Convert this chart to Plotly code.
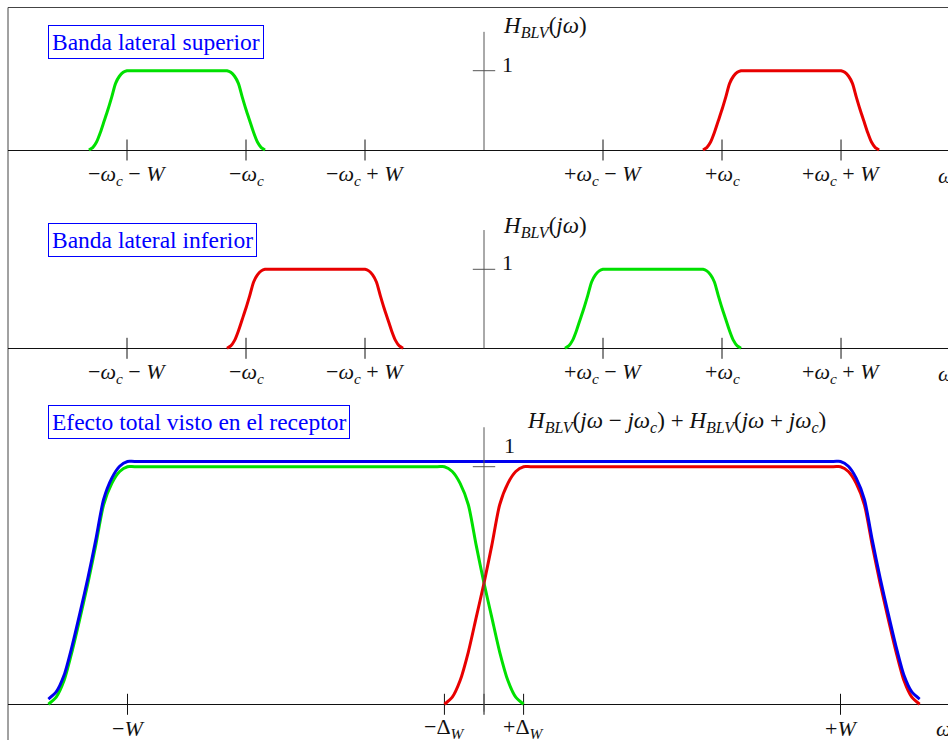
import plotly.graph_objects as go

FONT = "Liberation Serif"
GREEN = "#00e000"
RED = "#e80000"
BLUE = "#0000ee"
AXIS_GRAY = "#555555"

# ---- filter transition values (last / first point: flat top) ----
rise_v = [0, 0.03, 0.10, 0.22, 0.365, 0.51, 0.67, 0.84, 0.93, 0.98, 1.0, 1.0]
fall_v = [1.0, 1.0, 0.98, 0.93, 0.84, 0.67, 0.51, 0.365, 0.22, 0.10, 0.03, 0]
blue_rise_v = [0.022, 0.052, 0.122, 0.242, 0.387, 0.532, 0.692, 0.862, 0.952, 1.002, 1.022, 1.022]
blue_fall_v = [1.022, 1.022, 1.002, 0.952, 0.862, 0.692, 0.532, 0.387, 0.242, 0.122, 0.052, 0.022]

# ---- panel 1: Banda lateral superior (x in units of W, wc = 2W) ----
p1_green_rise_x = [-3.32, -3.288, -3.256, -3.224, -3.192, -3.16, -3.128, -3.096, -3.064, -3.032, -3.0, -2.97]
p1_green_fall_x = [-2.19, -2.16, -2.128, -2.096, -2.064, -2.032, -2.0, -1.968, -1.936, -1.904, -1.872, -1.84]
p1_red_rise_x = [1.84, 1.872, 1.904, 1.936, 1.968, 2.0, 2.032, 2.064, 2.096, 2.128, 2.16, 2.19]
p1_red_fall_x = [2.97, 3.0, 3.032, 3.064, 3.096, 3.128, 3.16, 3.192, 3.224, 3.256, 3.288, 3.32]

# ---- panel 2: Banda lateral inferior ----
p2_red_rise_x = [-2.16, -2.128, -2.096, -2.064, -2.032, -2.0, -1.968, -1.936, -1.904, -1.872, -1.84, -1.81]
p2_red_fall_x = [-1.03, -1.0, -0.968, -0.936, -0.904, -0.872, -0.84, -0.808, -0.776, -0.744, -0.712, -0.68]
p2_green_rise_x = [0.68, 0.712, 0.744, 0.776, 0.808, 0.84, 0.872, 0.904, 0.936, 0.968, 1.0, 1.03]
p2_green_fall_x = [1.81, 1.84, 1.872, 1.904, 1.936, 1.968, 2.0, 2.032, 2.064, 2.096, 2.128, 2.16]

# ---- panel 3: Efecto total visto en el receptor (x in units of W) ----
p3_green_rise_x = [-1.222, -1.2, -1.178, -1.156, -1.133, -1.111, -1.089, -1.067, -1.044, -1.022, -1.0, -0.98]
p3_green_fall_x = [-0.131, -0.111, -0.089, -0.067, -0.044, -0.022, 0.0, 0.022, 0.044, 0.067, 0.089, 0.111]
p3_red_rise_x = [-0.111, -0.089, -0.067, -0.044, -0.022, 0.0, 0.022, 0.044, 0.067, 0.089, 0.111, 0.131]
p3_red_fall_x = [0.98, 1.0, 1.022, 1.044, 1.067, 1.089, 1.111, 1.133, 1.156, 1.178, 1.2, 1.222]

# ---- tick labels ----
sb_tick_vals = [-3, -2, -1, 1, 2, 3]
sb_tick_labels = [
    "−<i>ω</i><sub><i>c</i></sub> − <i>W</i>",
    "−<i>ω</i><sub><i>c</i></sub>",
    "−<i>ω</i><sub><i>c</i></sub> + <i>W</i>",
    "+<i>ω</i><sub><i>c</i></sub> − <i>W</i>",
    "+<i>ω</i><sub><i>c</i></sub>",
    "+<i>ω</i><sub><i>c</i></sub> + <i>W</i>",
]
tot_tick_vals = [-1, -0.111, 0, 0.111, 1]
tot_tick_labels = ["−<i>W</i>", "−Δ<sub><i>W</i></sub>", "", "+Δ<sub><i>W</i></sub>", "+<i>W</i>"]

H_label = "<i>H</i><sub><i>BLV</i></sub>(<i>jω</i>)"
H_total_label = ("<i>H</i><sub><i>BLV</i></sub>(<i>jω</i> − <i>jω</i><sub><i>c</i></sub>)&nbsp;+&nbsp;"
                 "<i>H</i><sub><i>BLV</i></sub>(<i>jω</i> + <i>jω</i><sub><i>c</i></sub>)")
box_titles = ["Banda lateral superior", "Banda lateral inferior", "Efecto total visto en el receptor"]

fig = go.Figure()

def curve(x, y, color, xa, ya):
    fig.add_trace(go.Scatter(x=x, y=y, mode="lines", xaxis=xa, yaxis=ya,
                             line=dict(color=color, width=3, shape="spline", smoothing=0.7),
                             hoverinfo="skip", showlegend=False))

def ticks(xs, xa, ya):
    fig.add_trace(go.Scatter(x=xs, y=[0] * len(xs), mode="markers", xaxis=xa, yaxis=ya,
                             marker=dict(symbol="line-ns", size=15,
                                         line=dict(color="#111111", width=1)),
                             hoverinfo="skip", showlegend=False))

def level_tick(xa, ya):
    fig.add_trace(go.Scatter(x=[0], y=[1], mode="markers", xaxis=xa, yaxis=ya,
                             marker=dict(symbol="line-ew", size=16,
                                         line=dict(color=AXIS_GRAY, width=1)),
                             hoverinfo="skip", showlegend=False))

# panel 1
ticks(sb_tick_vals, "x", "y")
level_tick("x", "y")
curve(p1_green_rise_x + p1_green_fall_x, rise_v + fall_v, GREEN, "x", "y")
curve(p1_red_rise_x + p1_red_fall_x, rise_v + fall_v, RED, "x", "y")
# panel 2
ticks(sb_tick_vals, "x2", "y2")
level_tick("x2", "y2")
curve(p2_red_rise_x + p2_red_fall_x, rise_v + fall_v, RED, "x2", "y2")
curve(p2_green_rise_x + p2_green_fall_x, rise_v + fall_v, GREEN, "x2", "y2")
# panel 3
ticks(tot_tick_vals, "x3", "y3")
level_tick("x3", "y3")
curve(p3_green_rise_x + p3_green_fall_x, rise_v + fall_v, GREEN, "x3", "y3")
curve(p3_red_rise_x + p3_red_fall_x, rise_v + fall_v, RED, "x3", "y3")
curve(p3_green_rise_x + p3_red_fall_x, blue_rise_v + blue_fall_v, BLUE, "x3", "y3")

W, H = 948, 740
xdom = [8 / W, 1]
ax_common = dict(showgrid=False, showticklabels=False, zeroline=False, showline=False,
                 ticks="", fixedrange=True)
yax_common = dict(showgrid=False, showticklabels=False, zeroline=True, zerolinecolor="#111111",
                  zerolinewidth=1, showline=False, ticks="", fixedrange=True)

fig.update_layout(
    width=W, height=H, margin=dict(l=0, r=0, t=0, b=0),
    paper_bgcolor="white", plot_bgcolor="rgba(0,0,0,0)",
    xaxis=dict(domain=xdom, range=[-4.0, 3.899], anchor="y", **ax_common),
    yaxis=dict(domain=[1 - 200 / H, 1], range=[-0.6305, 1.8916], anchor="x", **yax_common),
    xaxis2=dict(domain=xdom, range=[-4.0, 3.899], anchor="y2", **ax_common),
    yaxis2=dict(domain=[1 - 395 / H, 1 - 200 / H], range=[-0.5911, 1.8772], anchor="x2", **yax_common),
    xaxis3=dict(domain=xdom, range=[-1.3352, 1.3015], anchor="y3", **ax_common),
    yaxis3=dict(domain=[0, 1 - 395 / H], range=[-0.1503, 1.3018], anchor="x3", **yax_common),
    font=dict(family=FONT, size=22, color="#111111"),
)

shapes = [
    # outer frame
    dict(type="rect", xref="paper", yref="paper", x0=8 / W, x1=1.2, y0=-0.2, y1=1 - 7.5 / H,
         line=dict(color="#444444", width=1), fillcolor="rgba(0,0,0,0)", layer="below"),
    # vertical axes
    dict(type="line", xref="x", yref="y", x0=0, x1=0, y0=0, y1=1.49,
         line=dict(color=AXIS_GRAY, width=1)),
    dict(type="line", xref="x2", yref="y2", x0=0, x1=0, y0=0, y1=1.497,
         line=dict(color=AXIS_GRAY, width=1)),
    dict(type="line", xref="x3", yref="y3", x0=0, x1=0, y0=-0.031, y1=1.166,
         line=dict(color=AXIS_GRAY, width=1)),
]
fig.update_layout(shapes=shapes)

ann = []
def label(text, xa, ya, x, y, xanchor="center", yanchor="middle", yshift=0, size=22, color="#111111"):
    ann.append(dict(text=text, xref=xa, yref=ya, x=x, y=y, xanchor=xanchor, yanchor=yanchor,
                    yshift=yshift, showarrow=False, font=dict(family=FONT, size=size, color=color)))

for xa, ya in (("x", "y"), ("x2", "y2")):
    for v, t in zip(sb_tick_vals, sb_tick_labels):
        label(t, xa, ya, v, 0, yshift=-25)
    label("<i>ω</i>", xa, ya, 3.796, 0, xanchor="left", yshift=-25)
for v, t in zip(tot_tick_vals, tot_tick_labels):
    if t:
        label(t, "x3", "y3", v, 0, yshift=-24)
label("<i>ω</i>", "x3", "y3", 1.262, 0, xanchor="left", yshift=-24)

label(H_label, "x", "y", 0.14, 1.555, xanchor="left", size=23)
label("1", "x", "y", 0.134, 1.072, xanchor="left")
label(H_label, "x2", "y2", 0.14, 1.539, xanchor="left", size=23)
label("1", "x2", "y2", 0.134, 1.080, xanchor="left")
label(H_total_label, "x3", "y3", 0.115, 1.189, xanchor="left", size=23)
label("1", "x3", "y3", 0.0505, 1.091, xanchor="left")

for (xa, ya, x, y), t in zip([("x", "y", -3.661, 1.576), ("x2", "y2", -3.661, 1.590),
                              ("x3", "y3", -1.2222, 1.2597)], box_titles):
    ann.append(dict(text=t, xref=xa, yref=ya, x=x, y=y, xanchor="left", yanchor="top",
                    showarrow=False, bordercolor="#0000ff", borderwidth=1, borderpad=3,
                    font=dict(family=FONT, size=23.5, color="#0000ff")))

fig.update_layout(annotations=ann)

fig.write_html("out.html", config={"displayModeBar": False},
               post_script="document.body.style.margin='0';")
